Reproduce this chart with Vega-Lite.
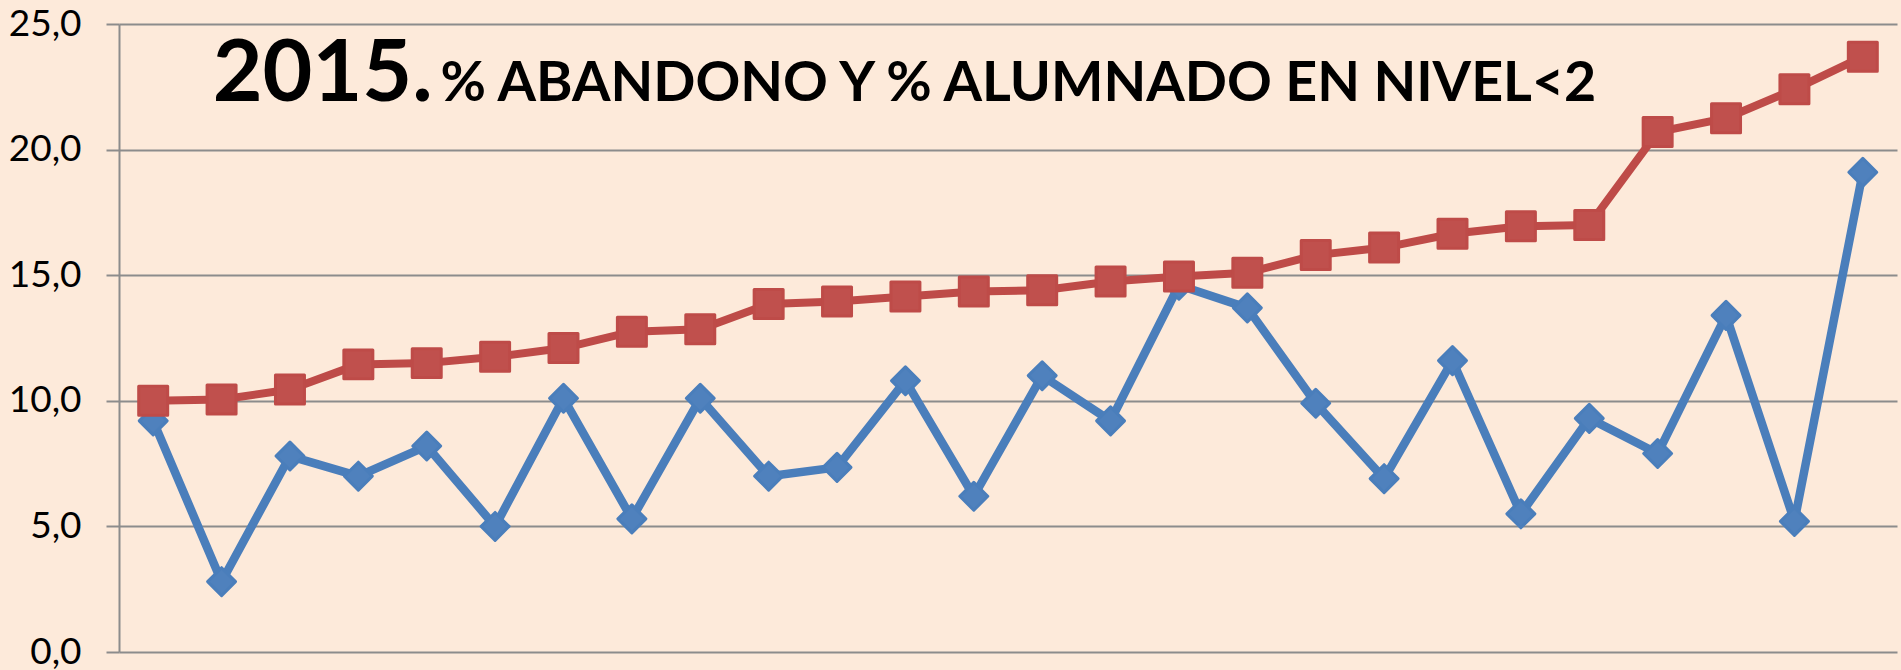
{
  "$schema": "https://vega.github.io/schema/vega-lite/v6.json",
  "autosize": {"type": "none"},
  "width": 1778,
  "height": 628,
  "padding": {"left": 119, "top": 24, "right": 4, "bottom": 18},
  "background": "#FDEADA",
  "config": {"view": {"stroke": null}},
  "datasets": {
    "series": [
      {"n": 1, "serie": "Abandono", "valor": 9.2},
      {"n": 2, "serie": "Abandono", "valor": 2.8},
      {"n": 3, "serie": "Abandono", "valor": 7.8},
      {"n": 4, "serie": "Abandono", "valor": 7.0},
      {"n": 5, "serie": "Abandono", "valor": 8.2},
      {"n": 6, "serie": "Abandono", "valor": 5.0},
      {"n": 7, "serie": "Abandono", "valor": 10.1},
      {"n": 8, "serie": "Abandono", "valor": 5.3},
      {"n": 9, "serie": "Abandono", "valor": 10.1},
      {"n": 10, "serie": "Abandono", "valor": 7.0},
      {"n": 11, "serie": "Abandono", "valor": 7.35},
      {"n": 12, "serie": "Abandono", "valor": 10.8},
      {"n": 13, "serie": "Abandono", "valor": 6.2},
      {"n": 14, "serie": "Abandono", "valor": 11.0},
      {"n": 15, "serie": "Abandono", "valor": 9.2},
      {"n": 16, "serie": "Abandono", "valor": 14.6},
      {"n": 17, "serie": "Abandono", "valor": 13.7},
      {"n": 18, "serie": "Abandono", "valor": 9.9},
      {"n": 19, "serie": "Abandono", "valor": 6.9},
      {"n": 20, "serie": "Abandono", "valor": 11.6},
      {"n": 21, "serie": "Abandono", "valor": 5.5},
      {"n": 22, "serie": "Abandono", "valor": 9.3},
      {"n": 23, "serie": "Abandono", "valor": 7.9},
      {"n": 24, "serie": "Abandono", "valor": 13.4},
      {"n": 25, "serie": "Abandono", "valor": 5.2},
      {"n": 26, "serie": "Abandono", "valor": 19.1},
      {"n": 1, "serie": "Nivel<2", "valor": 10.0},
      {"n": 2, "serie": "Nivel<2", "valor": 10.05},
      {"n": 3, "serie": "Nivel<2", "valor": 10.45},
      {"n": 4, "serie": "Nivel<2", "valor": 11.45},
      {"n": 5, "serie": "Nivel<2", "valor": 11.5},
      {"n": 6, "serie": "Nivel<2", "valor": 11.75},
      {"n": 7, "serie": "Nivel<2", "valor": 12.1},
      {"n": 8, "serie": "Nivel<2", "valor": 12.75},
      {"n": 9, "serie": "Nivel<2", "valor": 12.85},
      {"n": 10, "serie": "Nivel<2", "valor": 13.85},
      {"n": 11, "serie": "Nivel<2", "valor": 13.95},
      {"n": 12, "serie": "Nivel<2", "valor": 14.15},
      {"n": 13, "serie": "Nivel<2", "valor": 14.35},
      {"n": 14, "serie": "Nivel<2", "valor": 14.4},
      {"n": 15, "serie": "Nivel<2", "valor": 14.75},
      {"n": 16, "serie": "Nivel<2", "valor": 14.95},
      {"n": 17, "serie": "Nivel<2", "valor": 15.1},
      {"n": 18, "serie": "Nivel<2", "valor": 15.8},
      {"n": 19, "serie": "Nivel<2", "valor": 16.1},
      {"n": 20, "serie": "Nivel<2", "valor": 16.65},
      {"n": 21, "serie": "Nivel<2", "valor": 16.95},
      {"n": 22, "serie": "Nivel<2", "valor": 17.0},
      {"n": 23, "serie": "Nivel<2", "valor": 20.7},
      {"n": 24, "serie": "Nivel<2", "valor": 21.25},
      {"n": 25, "serie": "Nivel<2", "valor": 22.4},
      {"n": 26, "serie": "Nivel<2", "valor": 23.7}
    ],
    "titulo": [{"year": "2015.", "texto": "% ABANDONO Y % ALUMNADO EN NIVEL<2"}]
  },
  "layer": [
    {
      "data": {"name": "series"},
      "transform": [{"filter": "datum.serie === 'Abandono'"}],
      "mark": {"type": "line", "color": "#4A7EBB", "strokeWidth": 8.5, "strokeJoin": "round"},
      "encoding": {
        "x": {"field": "n", "type": "quantitative", "scale": {"domain": [0.5, 26.5], "nice": false, "zero": false}, "axis": null},
        "y": {
          "field": "valor", "type": "quantitative",
          "scale": {"domain": [0, 25], "nice": false},
          "axis": {
            "title": null,
            "values": [0, 5, 10, 15, 20, 25],
            "labelExpr": "replace(format(datum.value, '.1f'), '.', ',')",
            "labelFont": "Lato",
            "labelFontSize": 37,
            "labelColor": "#000000",
            "labelPadding": 25,
            "tickSize": 13,
            "tickColor": "#8C8C8C",
            "tickWidth": 2,
            "domainColor": "#8C8C8C",
            "domainWidth": 2,
            "grid": true,
            "gridColor": "#8C8C8C",
            "gridWidth": 2
          }
        }
      }
    },
    {
      "data": {"name": "series"},
      "transform": [{"filter": "datum.serie === 'Abandono'"}],
      "mark": {"type": "point", "shape": "diamond", "filled": true, "size": 780, "fill": "#4F81BD", "stroke": "#4A7EBB", "strokeWidth": 3, "strokeJoin": "round", "opacity": 1},
      "encoding": {
        "x": {"field": "n", "type": "quantitative"},
        "y": {"field": "valor", "type": "quantitative"}
      }
    },
    {
      "data": {"name": "series"},
      "transform": [{"filter": "datum.serie === 'Nivel<2'"}],
      "mark": {"type": "line", "color": "#BE4B48", "strokeWidth": 8, "strokeJoin": "round"},
      "encoding": {
        "x": {"field": "n", "type": "quantitative"},
        "y": {"field": "valor", "type": "quantitative"}
      }
    },
    {
      "data": {"name": "series"},
      "transform": [{"filter": "datum.serie === 'Nivel<2'"}],
      "mark": {"type": "point", "shape": "square", "filled": true, "size": 840, "fill": "#C0504D", "stroke": "#BE4B48", "strokeWidth": 3, "strokeJoin": "round", "opacity": 1},
      "encoding": {
        "x": {"field": "n", "type": "quantitative"},
        "y": {"field": "valor", "type": "quantitative"}
      }
    },
    {
      "data": {"name": "titulo"},
      "mark": {"type": "text", "font": "Lato", "fontWeight": "bold", "fontSize": 86, "align": "left", "baseline": "alphabetic", "color": "#000000"},
      "encoding": {
        "x": {"datum": 1.87},
        "y": {"datum": 21.93},
        "text": {"field": "year"}
      }
    },
    {
      "data": {"name": "titulo"},
      "mark": {"type": "text", "font": "Lato", "fontWeight": "bold", "fontSize": 55.5, "align": "left", "baseline": "alphabetic", "color": "#000000"},
      "encoding": {
        "x": {"datum": 5.2},
        "y": {"datum": 21.93},
        "text": {"field": "texto"}
      }
    }
  ]
}
